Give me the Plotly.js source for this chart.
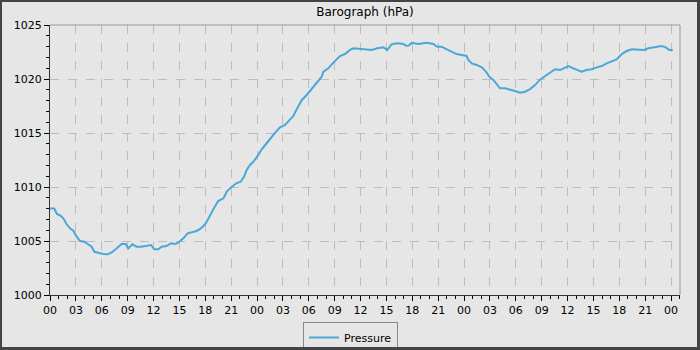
<!DOCTYPE html>
<html>
<head>
<meta charset="utf-8">
<script src="https://cdn.plot.ly/plotly-3.0.1.min.js"></script>
<style>
html,body{margin:0;padding:0;background:#e6e6e6;}
#wrap{position:relative;width:700px;height:350px;}
#chart{width:700px;height:350px;}
#frame{position:absolute;left:0;top:0;width:700px;height:350px;box-sizing:border-box;border:2px solid #444;border-right-width:3px;border-bottom-width:3px;pointer-events:none;}
</style>
</head>
<body>
<div id="wrap"><div id="chart"></div><div id="frame"></div></div>
<script>
// hours since start of the record
var hours = [0.0,0.5,0.8,1.2,1.55,1.93,2.32,2.7,3.09,3.48,3.98,4.37,4.83,5.14,5.6,6.18,6.69,7.15,7.61,8.0,8.3,8.77,9.08,9.55,10.05,10.6,11.2,11.7,12.1,12.56,12.95,13.5,14.03,14.57,15.0,15.46,15.96,16.43,17.0,17.5,17.9,18.17,18.55,19.0,19.5,20.1,20.5,20.95,21.6,22.1,22.5,22.8,23.19,23.57,24.15,24.54,25.12,25.7,26.2,26.67,27.25,27.6,28.2,28.6,29.2,29.76,30.3,30.9,31.5,31.7,32.27,32.77,33.24,33.62,34.2,34.78,35.17,35.94,36.7,37.3,37.95,38.65,39.1,39.6,40.2,40.58,41.0,41.28,41.6,41.93,42.7,43.67,44.44,44.9,45.4,46.0,46.57,47.15,47.73,48.3,48.5,48.9,49.47,50.05,50.55,50.94,51.4,51.86,52.17,52.75,53.33,53.9,54.5,55.07,55.65,56.23,56.8,57.4,57.97,58.55,59.13,59.6,60.1,60.68,61.14,61.64,62.2,62.8,63.4,63.96,64.54,65.12,65.7,66.28,66.86,67.44,68.2,68.87,69.37,70.14,70.92,71.4,71.8,72.2];
var pressure = [1008.0,1008.0,1007.5,1007.35,1007.1,1006.55,1006.17,1005.95,1005.4,1005.0,1004.93,1004.72,1004.47,1004.0,1003.9,1003.8,1003.77,1003.95,1004.23,1004.47,1004.72,1004.72,1004.32,1004.69,1004.47,1004.47,1004.56,1004.63,1004.23,1004.23,1004.47,1004.53,1004.79,1004.72,1004.93,1005.25,1005.71,1005.8,1005.93,1006.17,1006.48,1006.79,1007.41,1008.03,1008.7,1008.95,1009.57,1009.94,1010.34,1010.49,1010.96,1011.57,1012.04,1012.34,1012.96,1013.49,1014.05,1014.66,1015.12,1015.53,1015.74,1016.05,1016.55,1017.2,1018.06,1018.52,1019.04,1019.6,1020.21,1020.68,1020.99,1021.45,1021.82,1022.13,1022.31,1022.69,1022.84,1022.78,1022.78,1022.69,1022.84,1022.93,1022.69,1023.21,1023.3,1023.3,1023.25,1023.08,1023.1,1023.36,1023.24,1023.36,1023.24,1022.99,1022.99,1022.75,1022.53,1022.31,1022.22,1022.13,1021.76,1021.45,1021.3,1021.08,1020.68,1020.21,1019.91,1019.44,1019.14,1019.14,1019.04,1018.89,1018.73,1018.82,1019.07,1019.44,1019.94,1020.25,1020.53,1020.9,1020.83,1020.99,1021.2,1020.99,1020.83,1020.68,1020.83,1020.9,1021.08,1021.2,1021.45,1021.6,1021.82,1022.31,1022.59,1022.75,1022.75,1022.69,1022.84,1022.93,1023.05,1022.93,1022.69,1022.69];
var xTickVals = [0,3,6,9,12,15,18,21,24,27,30,33,36,39,42,45,48,51,54,57,60,63,66,69,72];
var xTickText = ["00","03","06","09","12","15","18","21","00","03","06","09","12","15","18","21","00","03","06","09","12","15","18","21","00"];
var yTickVals = [1000,1005,1010,1015,1020,1025];

var font = {family:"DejaVu Sans, sans-serif", size:11, color:"#000"};
var trace = {
  x: hours, y: pressure, type:"scatter", mode:"lines", name:"Pressure",
  line:{color:"#4aa8d8", width:2}
};
var layout = {
  width:700, height:350,
  margin:{l:50, r:20, t:25, b:55, pad:0, autoexpand:false},
  paper_bgcolor:"#e6e6e6", plot_bgcolor:"#e6e6e6",
  font:font,
  title:{text:"Barograph (hPa)", font:{family:"DejaVu Sans, sans-serif", size:12, color:"#000"}, x:0.5, xref:"paper", xanchor:"center", y:0.966, yref:"container", yanchor:"middle"},
  xaxis:{range:[0,73.04], tickvals:xTickVals, ticktext:xTickText, ticks:"outside", ticklen:5, tickcolor:"#000", tickwidth:1,
    showline:true, linecolor:"#333", linewidth:1, showgrid:true, gridcolor:"#bdbdbd", griddash:"dash", gridwidth:1, zeroline:false, automargin:false,
    minor:{dtick:1, tick0:0, ticks:"outside", ticklen:3, tickcolor:"#000", showgrid:false}, tickfont:font, fixedrange:true},
  yaxis:{range:[1000,1025], tickvals:yTickVals, ticks:"outside", ticklen:5, tickcolor:"#000", tickwidth:1,
    showline:true, linecolor:"#333", linewidth:1, showgrid:true, gridcolor:"#bdbdbd", griddash:"dash", gridwidth:1, zeroline:false, automargin:false,
    minor:{dtick:1, tick0:1000, ticks:"outside", ticklen:3, tickcolor:"#000", showgrid:false}, tickfont:font, fixedrange:true},
  shapes:[
    {type:"line", xref:"paper", yref:"paper", x0:0, x1:1, y0:1, y1:1, line:{color:"#999", width:1}},
    {type:"line", xref:"paper", yref:"paper", x0:1, x1:1, y0:0, y1:1, line:{color:"#999", width:1}}
  ],
  showlegend:true,
  legend:{orientation:"h", x:0.477, xanchor:"center", y:-0.1, yanchor:"top", bgcolor:"#e6e6e6", bordercolor:"#888", borderwidth:1,
    font:font, itemwidth:30, tracegroupgap:0}
};
Plotly.newPlot("chart", [trace], layout, {displayModeBar:false, staticPlot:true});
</script>
</body>
</html>
